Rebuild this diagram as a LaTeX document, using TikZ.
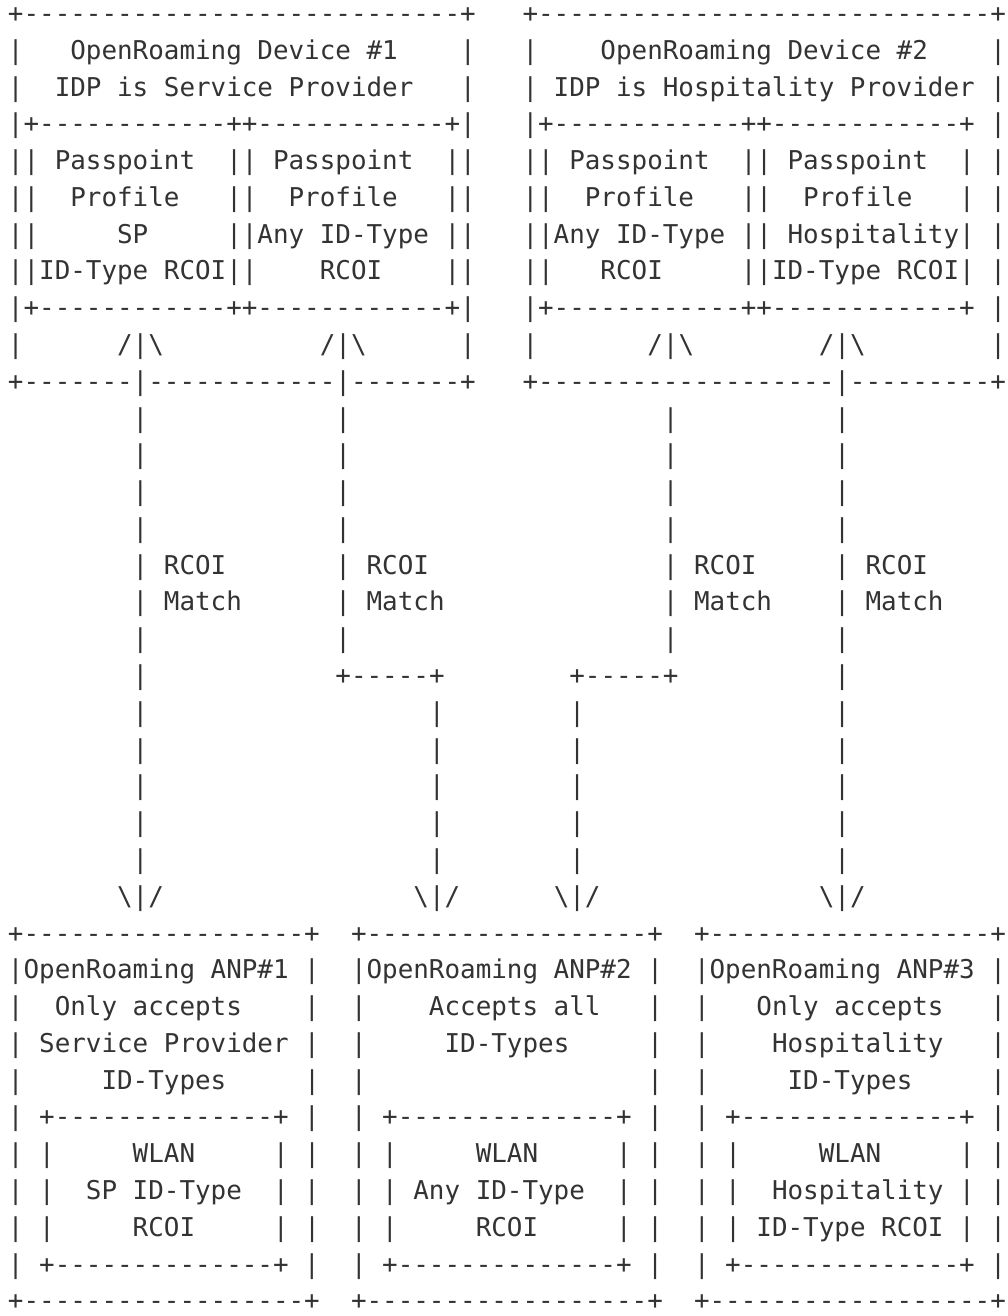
\documentclass[tikz,border=0pt]{standalone}
\usepackage{fontspec}
\setmonofont{DejaVu Sans Mono}
\definecolor{ink}{HTML}{333333}
\ExplSyntaxOn
\NewDocumentCommand\sk{m}{\prg_replicate:nn{#1}{\nobreakspace}}
\NewDocumentCommand\dd{m}{\prg_replicate:nn{#1}{-}}
\ExplSyntaxOff
\newcommand\bs{\textbackslash}
\newcommand\ry[1]{22.5+36.78*(#1-1)}
\tikzset{row/.style={anchor=base west, inner sep=0pt, outer sep=0pt, text=ink,
  font=\ttfamily\fontsize{25.9}{31}\selectfont\frenchspacing}}
\begin{document}
\begin{tikzpicture}[x=1pt,y=-1pt]
\fill[white] (0,0) rectangle (1008,1316);
\useasboundingbox (0,0) rectangle (1008,1316);
% top device boxes
\node[row] (r1) at (8,{\ry{1}}) {+\dd{28}+\sk{3}+\dd{29}+};
\node[row] (r2) at (8,{\ry{2}}) {|\sk{3}OpenRoaming\sk{1}Device\sk{1}\#1\sk{4}|\sk{3}|\sk{4}OpenRoaming\sk{1}Device\sk{1}\#2\sk{4}|};
\node[row] (r3) at (8,{\ry{3}}) {|\sk{2}IDP\sk{1}is\sk{1}Service\sk{1}Provider\sk{3}|\sk{3}|\sk{1}IDP\sk{1}is\sk{1}Hospitality\sk{1}Provider\sk{1}|};
\node[row] (r4) at (8,{\ry{4}}) {|+\dd{12}++\dd{12}+|\sk{3}|+\dd{12}++\dd{12}+\sk{1}|};
\node[row] (r5) at (8,{\ry{5}}) {||\sk{1}Passpoint\sk{2}||\sk{1}Passpoint\sk{2}||\sk{3}||\sk{1}Passpoint\sk{2}||\sk{1}Passpoint\sk{2}|\sk{1}|};
\node[row] (r6) at (8,{\ry{6}}) {||\sk{2}Profile\sk{3}||\sk{2}Profile\sk{3}||\sk{3}||\sk{2}Profile\sk{3}||\sk{2}Profile\sk{3}|\sk{1}|};
\node[row] (r7) at (8,{\ry{7}}) {||\sk{5}SP\sk{5}||Any\sk{1}ID-Type\sk{1}||\sk{3}||Any\sk{1}ID-Type\sk{1}||\sk{1}Hospitality|\sk{1}|};
\node[row] (r8) at (8,{\ry{8}}) {||ID-Type\sk{1}RCOI||\sk{4}RCOI\sk{4}||\sk{3}||\sk{3}RCOI\sk{5}||ID-Type\sk{1}RCOI|\sk{1}|};
\node[row] (r9) at (8,{\ry{9}}) {|+\dd{12}++\dd{12}+|\sk{3}|+\dd{12}++\dd{12}+\sk{1}|};
\node[row] (r10) at (8,{\ry{10}}) {|\sk{6}/|\bs\sk{10}/|\bs\sk{6}|\sk{3}|\sk{7}/|\bs\sk{8}/|\bs\sk{8}|};
\node[row] (r11) at (8,{\ry{11}}) {+\dd{7}|\dd{12}|\dd{7}+\sk{3}+\dd{19}|\dd{9}+};
% connectors
\node[row] (r12) at (8,{\ry{12}}) {\sk{8}|\sk{12}|\sk{20}|\sk{10}|};
\node[row] (r13) at (8,{\ry{13}}) {\sk{8}|\sk{12}|\sk{20}|\sk{10}|};
\node[row] (r14) at (8,{\ry{14}}) {\sk{8}|\sk{12}|\sk{20}|\sk{10}|};
\node[row] (r15) at (8,{\ry{15}}) {\sk{8}|\sk{12}|\sk{20}|\sk{10}|};
\node[row] (r16) at (8,{\ry{16}}) {\sk{8}|\sk{1}RCOI\sk{7}|\sk{1}RCOI\sk{15}|\sk{1}RCOI\sk{5}|\sk{1}RCOI};
\node[row] (r17) at (8,{\ry{17}}) {\sk{8}|\sk{1}Match\sk{6}|\sk{1}Match\sk{14}|\sk{1}Match\sk{4}|\sk{1}Match};
\node[row] (r18) at (8,{\ry{18}}) {\sk{8}|\sk{12}|\sk{20}|\sk{10}|};
\node[row] (r19) at (8,{\ry{19}}) {\sk{8}|\sk{12}+\dd{5}+\sk{8}+\dd{5}+\sk{10}|};
\node[row] (r20) at (8,{\ry{20}}) {\sk{8}|\sk{18}|\sk{8}|\sk{16}|};
\node[row] (r21) at (8,{\ry{21}}) {\sk{8}|\sk{18}|\sk{8}|\sk{16}|};
\node[row] (r22) at (8,{\ry{22}}) {\sk{8}|\sk{18}|\sk{8}|\sk{16}|};
\node[row] (r23) at (8,{\ry{23}}) {\sk{8}|\sk{18}|\sk{8}|\sk{16}|};
\node[row] (r24) at (8,{\ry{24}}) {\sk{8}|\sk{18}|\sk{8}|\sk{16}|};
\node[row] (r25) at (8,{\ry{25}}) {\sk{7}\bs|/\sk{16}\bs|/\sk{6}\bs|/\sk{14}\bs|/};
% ANP boxes
\node[row] (r26) at (8,{\ry{26}}) {+\dd{18}+\sk{2}+\dd{18}+\sk{2}+\dd{18}+};
\node[row] (r27) at (8,{\ry{27}}) {|OpenRoaming\sk{1}ANP\#1\sk{1}|\sk{2}|OpenRoaming\sk{1}ANP\#2\sk{1}|\sk{2}|OpenRoaming\sk{1}ANP\#3\sk{1}|};
\node[row] (r28) at (8,{\ry{28}}) {|\sk{2}Only\sk{1}accepts\sk{4}|\sk{2}|\sk{4}Accepts\sk{1}all\sk{3}|\sk{2}|\sk{3}Only\sk{1}accepts\sk{3}|};
\node[row] (r29) at (8,{\ry{29}}) {|\sk{1}Service\sk{1}Provider\sk{1}|\sk{2}|\sk{5}ID-Types\sk{5}|\sk{2}|\sk{4}Hospitality\sk{3}|};
\node[row] (r30) at (8,{\ry{30}}) {|\sk{5}ID-Types\sk{5}|\sk{2}|\sk{18}|\sk{2}|\sk{5}ID-Types\sk{5}|};
\node[row] (r31) at (8,{\ry{31}}) {|\sk{1}+\dd{14}+\sk{1}|\sk{2}|\sk{1}+\dd{14}+\sk{1}|\sk{2}|\sk{1}+\dd{14}+\sk{1}|};
\node[row] (r32) at (8,{\ry{32}}) {|\sk{1}|\sk{5}WLAN\sk{5}|\sk{1}|\sk{2}|\sk{1}|\sk{5}WLAN\sk{5}|\sk{1}|\sk{2}|\sk{1}|\sk{5}WLAN\sk{5}|\sk{1}|};
\node[row] (r33) at (8,{\ry{33}}) {|\sk{1}|\sk{2}SP\sk{1}ID-Type\sk{2}|\sk{1}|\sk{2}|\sk{1}|\sk{1}Any\sk{1}ID-Type\sk{2}|\sk{1}|\sk{2}|\sk{1}|\sk{2}Hospitality\sk{1}|\sk{1}|};
\node[row] (r34) at (8,{\ry{34}}) {|\sk{1}|\sk{5}RCOI\sk{5}|\sk{1}|\sk{2}|\sk{1}|\sk{5}RCOI\sk{5}|\sk{1}|\sk{2}|\sk{1}|\sk{1}ID-Type\sk{1}RCOI\sk{1}|\sk{1}|};
\node[row] (r35) at (8,{\ry{35}}) {|\sk{1}+\dd{14}+\sk{1}|\sk{2}|\sk{1}+\dd{14}+\sk{1}|\sk{2}|\sk{1}+\dd{14}+\sk{1}|};
\node[row] (r36) at (8,{\ry{36}}) {+\dd{18}+\sk{2}+\dd{18}+\sk{2}+\dd{18}+};
\end{tikzpicture}
\end{document}
